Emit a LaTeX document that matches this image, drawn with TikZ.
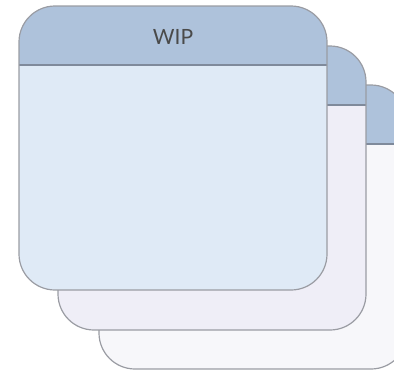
\documentclass[tikz,border=0pt]{standalone}
\usepackage{fontspec}
\setmainfont{Lato}
\definecolor{hdr}{HTML}{AEC2DB}
\definecolor{bodyA}{HTML}{DFEAF6}
\definecolor{bodyB}{HTML}{EFEEF7}
\definecolor{bodyC}{HTML}{F7F7FA}
\definecolor{rim}{HTML}{9A9CA3}
\definecolor{hline}{HTML}{7F8A9B}
\definecolor{txt}{HTML}{4A4A4A}
\tikzset{
  rim/.style={draw=rim, line width=1.2pt},
  hdrline/.style={draw=hline, line width=1.1pt},
  title/.style={font=\fontsize{21}{25}\selectfont, text=txt}
}
\newcommand\wipcard[4]{%
  % #1 left, #2 top, #3 body colour, #4 name
  \coordinate (#4) at (#1,#2);
  \begin{scope}
    \clip[rounded corners=36pt] (#1,#2) rectangle ++(308,284);
    \fill[#3] (#1,#2) rectangle ++(308,284);
    \fill[hdr] (#1,#2) rectangle ++(308,59);
    \draw[hdrline] (#1,#2+59) -- ++(308,0);
  \end{scope}
  \draw[rim, rounded corners=36pt] (#1,#2) rectangle ++(308,284);
}
\begin{document}
\begin{tikzpicture}[x=1pt,y=-1pt]
\useasboundingbox (0,0) rectangle (394,372);
\clip (0,0) rectangle (394,372);
\wipcard{99}{85}{bodyC}{c3}
\wipcard{58}{46}{bodyB}{c2}
\wipcard{19}{6}{bodyA}{c1}
\node[title] (wip) at (173,37) {WIP};
\end{tikzpicture}
\end{document}
